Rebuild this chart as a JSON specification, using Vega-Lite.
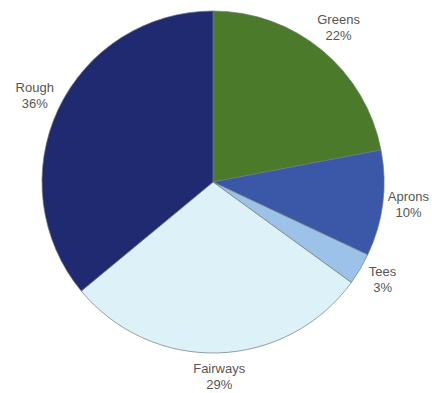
{
  "$schema": "https://vega.github.io/schema/vega-lite/v6.json",
  "autosize": "none",
  "width": 426,
  "height": 364,
  "padding": {"left": 0, "top": 0, "right": 6, "bottom": 29},
  "background": "white",
  "view": {"stroke": null},
  "data": {"values": [
    {"area": "Greens", "pct": 22, "label": "Greens\n22%", "order": 1},
    {"area": "Aprons", "pct": 10, "label": "Aprons\n10%", "order": 2},
    {"area": "Tees", "pct": 3, "label": "Tees\n3%", "order": 3},
    {"area": "Fairways", "pct": 29, "label": "Fairways\n29%", "order": 4},
    {"area": "Rough", "pct": 36, "label": "Rough\n36%", "order": 5}
  ]},
  "encoding": {
    "theta": {"field": "pct", "type": "quantitative", "stack": true},
    "order": {"field": "order", "type": "quantitative"}
  },
  "layer": [
    {
      "mark": {"type": "arc", "radius": 171, "stroke": "#6f7880", "strokeWidth": 0.7},
      "encoding": {
        "color": {
          "field": "area", "type": "nominal", "legend": null,
          "scale": {
            "domain": ["Greens", "Aprons", "Tees", "Fairways", "Rough"],
            "range": ["#4a7a2a", "#3b57a8", "#9cc2ea", "#dcf2f8", "#1f2a70"]
          }
        }
      }
    },
    {
      "mark": {"type": "text", "radius": 197, "dy": -10, "font": "Liberation Sans", "fontSize": 13, "fill": "#555555", "lineBreak": "\n", "lineHeight": 16, "align": "center", "baseline": "middle"},
      "encoding": {"text": {"field": "label", "type": "nominal"}}
    }
  ]
}
